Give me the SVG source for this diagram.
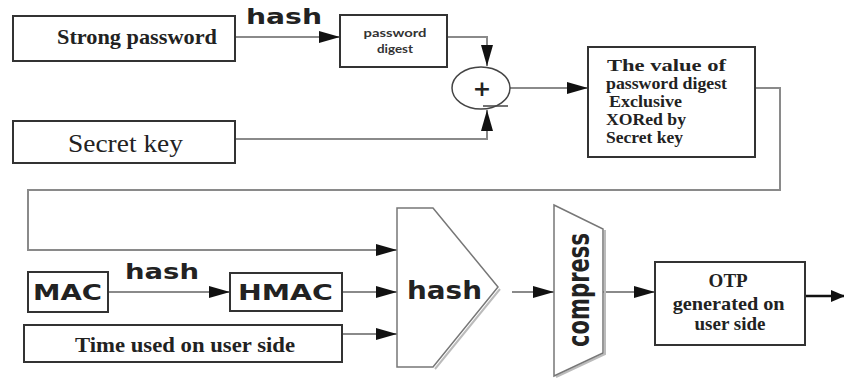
<svg xmlns="http://www.w3.org/2000/svg" width="844" height="378" viewBox="0 0 844 378">
  <defs>
    <marker id="ah" markerWidth="22" markerHeight="12" refX="21" refY="6" orient="auto" markerUnits="userSpaceOnUse">
      <path d="M0,0 L21,6 L0,12 z" fill="#111"/>
    </marker>
    <marker id="ahs" markerWidth="14" markerHeight="12" refX="13" refY="6" orient="auto" markerUnits="userSpaceOnUse">
      <path d="M0,0 L14,6 L0,12 z" fill="#111"/>
    </marker>
  </defs>
  <style>
    .box { fill: #fff; stroke: #333; stroke-width: 2; }
    .soft { fill: #fff; stroke: #777; stroke-width: 1.5; }
    .shadow { fill: none; stroke: #bbb; stroke-width: 2; }
    .conn { fill: none; stroke: #8a8a8a; stroke-width: 2; marker-end: url(#ah); }
    .serif { font-family: "Liberation Serif", "Times New Roman", serif; font-weight: bold; fill: #222; }
    .serifr { font-family: "Liberation Serif", "Times New Roman", serif; fill: #222; }
    .sans { font-family: "DejaVu Sans", Verdana, sans-serif; font-weight: bold; fill: #222; }
    .small { font-family: Lato, "Open Sans", sans-serif; font-weight: bold; fill: #333; }
  </style>

  <rect width="844" height="378" fill="#fff"/>

  <!-- connectors -->
  <g id="connectors">
    <path class="conn" d="M235,37 H340"/>
    <path class="conn" d="M447,37 H487 V66"/>
    <path class="conn" d="M235,139 H487 V110"/>
    <path class="conn" d="M510,88 H588"/>
    <path class="conn" d="M755,88 H780 V190 H28 V250 H397"/>
    <path class="conn" d="M108,292 H230"/>
    <path class="conn" d="M342,292 H397"/>
    <path class="conn" d="M342,334 H397"/>
    <path class="conn" d="M512,292 H554"/>
    <path class="conn" d="M603,292 H655"/>
    <path d="M805,296 H844" fill="none" stroke="#111" stroke-width="2.5" marker-end="url(#ahs)"/>
    <text class="sans" x="246" y="24" font-size="21" textLength="76" lengthAdjust="spacingAndGlyphs">hash</text>
    <text class="sans" x="125" y="279" font-size="21" textLength="74" lengthAdjust="spacingAndGlyphs">hash</text>
  </g>

  <g id="strong-password">
    <rect class="box" x="13" y="16" width="222" height="45"/>
    <text class="serif" x="57" y="44" font-size="21" textLength="160" lengthAdjust="spacingAndGlyphs">Strong password</text>
  </g>

  <g id="password-digest">
    <rect class="box" x="340" y="15" width="107" height="52"/>
    <text class="small" x="395" y="37" font-size="12" text-anchor="middle" textLength="63" lengthAdjust="spacingAndGlyphs">password</text>
    <text class="small" x="395" y="53" font-size="12" text-anchor="middle" textLength="36" lengthAdjust="spacingAndGlyphs">digest</text>
  </g>

  <g id="secret-key">
    <rect class="box" x="13" y="121" width="222" height="42"/>
    <text class="serifr" x="68" y="152" font-size="26" textLength="115" lengthAdjust="spacingAndGlyphs">Secret key</text>
  </g>

  <g id="xor">
    <ellipse cx="481" cy="88" rx="29" ry="21" fill="#fff" stroke="#444" stroke-width="1.5"/>
    <path d="M483,106 H508" stroke="#444" stroke-width="1.5"/>
    <text class="sans" x="482" y="96" font-size="22" font-weight="normal" text-anchor="middle">+</text>
  </g>

  <g id="xor-result">
    <rect class="box" x="588" y="47" width="167" height="110"/>
    <text class="serif" font-size="16">
      <tspan x="607" y="71" textLength="119" lengthAdjust="spacingAndGlyphs">The value of</tspan>
      <tspan x="606" y="89" textLength="121" lengthAdjust="spacingAndGlyphs">password digest</tspan>
      <tspan x="609" y="107" textLength="73" lengthAdjust="spacingAndGlyphs">Exclusive</tspan>
      <tspan x="606" y="125" textLength="80" lengthAdjust="spacingAndGlyphs">XORed by</tspan>
      <tspan x="606" y="143" textLength="77" lengthAdjust="spacingAndGlyphs">Secret key</tspan>
    </text>
  </g>

  <g id="mac">
    <rect class="box" x="28" y="272" width="80" height="40" stroke="#555"/>
    <text class="sans" x="33" y="300" font-size="21" textLength="69" lengthAdjust="spacingAndGlyphs">MAC</text>
  </g>

  <g id="hmac">
    <rect class="box" x="230" y="273" width="112" height="38" stroke="#555"/>
    <text class="sans" x="238" y="300" font-size="21" textLength="95" lengthAdjust="spacingAndGlyphs">HMAC</text>
  </g>

  <g id="time">
    <rect class="box" x="24" y="325" width="318" height="37"/>
    <text class="serif" x="75" y="352" font-size="21" textLength="220" lengthAdjust="spacingAndGlyphs">Time used on user side</text>
  </g>

  <g id="hash-block">
    <path class="shadow" d="M435,369 L500,289"/>
    <polygon class="soft" points="397,208 433,208 498,287 433,367 397,367"/>
    <text class="sans" x="407" y="299" font-size="25" textLength="75" lengthAdjust="spacingAndGlyphs">hash</text>
  </g>

  <g id="compress">
    <path class="shadow" d="M605,230 V354 L556,377"/>
    <polygon class="soft" points="554,205 603,229 603,353 554,376"/>
    <text class="sans" font-size="21" text-anchor="middle" transform="translate(589,290) rotate(-90) scale(1,1.45)" textLength="114" lengthAdjust="spacingAndGlyphs">compress</text>
  </g>

  <g id="otp">
    <rect class="box" x="655" y="262" width="150" height="83"/>
    <text class="serif" font-size="19" text-anchor="middle">
      <tspan x="730" y="287">OTP</tspan>
      <tspan x="731" y="310" textLength="112" lengthAdjust="spacingAndGlyphs">generated on</tspan>
      <tspan x="730" y="330">user side</tspan>
    </text>
  </g>
</svg>
